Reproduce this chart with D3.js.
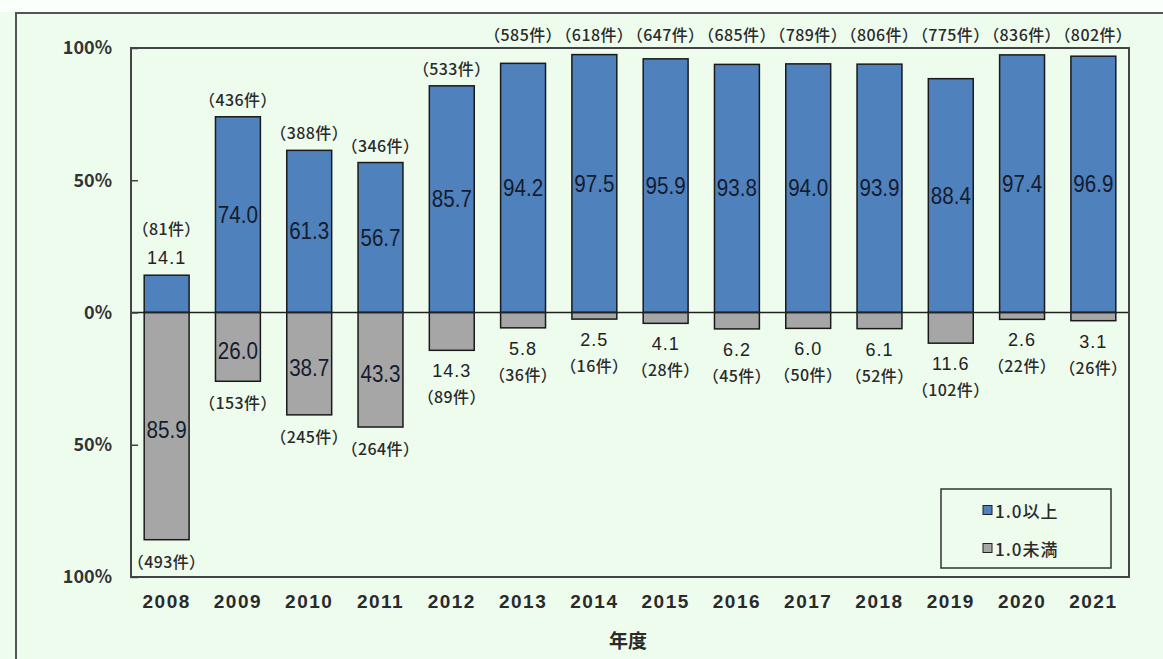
<!DOCTYPE html>
<html>
<head>
<meta charset="utf-8">
<script src="https://cdn.jsdelivr.net/npm/d3@7"></script>
<style>
  html, body { margin: 0; padding: 0; background: #eefcee; }
  svg { display: block; }
</style>
</head>
<body>
<svg id="chart" width="1163" height="659"></svg>
<script>
const years = ["2008", "2009", "2010", "2011", "2012", "2013", "2014", "2015", "2016", "2017", "2018", "2019", "2020", "2021"];
const aboveShare = [14.1, 74.0, 61.3, 56.7, 85.7, 94.2, 97.5, 95.9, 93.8, 94.0, 93.9, 88.4, 97.4, 96.9];
const belowShare = [85.9, 26.0, 38.7, 43.3, 14.3, 5.8, 2.5, 4.1, 6.2, 6.0, 6.1, 11.6, 2.6, 3.1];
const aboveCount = [81, 436, 388, 346, 533, 585, 618, 647, 685, 789, 806, 775, 836, 802];
const belowCount = [493, 153, 245, 264, 89, 36, 16, 28, 45, 50, 52, 102, 22, 26];
const yTicks = [-100, -50, 0, 50, 100];
const seriesNames = ["1.0以上", "1.0未満"];
const seriesColors = ["#4f81bd", "#a6a6a6"];

const width = 1163, height = 659;
const margin = {top: 48, right: 34, bottom: 82, left: 131};
const jp = "'Noto Sans CJK JP', sans-serif";
const num = "'Liberation Sans', Arial, sans-serif";

const svg = d3.select("#chart");

// outer frame (top edge + left edge visible)
svg.append("rect").attr("x", 0).attr("y", 0).attr("width", width).attr("height", 12).attr("fill", "#fbfffb");
svg.append("path")
    .attr("d", `M16,${height}V13H${width}`)
    .attr("fill", "none").attr("stroke", "#555").attr("stroke-width", 2);

const x = d3.scaleBand()
    .domain(years)
    .range([margin.left, width - margin.right])
    .paddingInner(0.37).paddingOuter(0.185);

const y = d3.scaleLinear()
    .domain([-100, 100])
    .range([height - margin.bottom, margin.top]);

const rows = years.map((yr, i) => ({
  year: yr, up: aboveShare[i], down: belowShare[i], nUp: aboveCount[i], nDown: belowCount[i]
}));

// bars
const g = svg.append("g");
g.selectAll("rect.up").data(rows).join("rect")
    .attr("class", "up")
    .attr("x", d => x(d.year)).attr("width", x.bandwidth())
    .attr("y", d => y(d.up)).attr("height", d => y(0) - y(d.up))
    .attr("fill", seriesColors[0]).attr("stroke", "#1a1a1a").attr("stroke-width", 1.5);

g.selectAll("rect.down").data(rows).join("rect")
    .attr("class", "down")
    .attr("x", d => x(d.year)).attr("width", x.bandwidth())
    .attr("y", y(0)).attr("height", d => y(-d.down) - y(0))
    .attr("fill", seriesColors[1]).attr("stroke", "#1a1a1a").attr("stroke-width", 1.5);

// zero line
svg.append("line")
    .attr("x1", margin.left).attr("x2", width - margin.right)
    .attr("y1", y(0)).attr("y2", y(0))
    .attr("stroke", "#222").attr("stroke-width", 1.5);

// plot frame
svg.append("rect")
    .attr("x", margin.left).attr("y", margin.top)
    .attr("width", width - margin.left - margin.right)
    .attr("height", height - margin.top - margin.bottom)
    .attr("fill", "none").attr("stroke", "#444").attr("stroke-width", 2);

// y axis
const yAxis = svg.append("g")
    .attr("transform", `translate(${margin.left},0)`)
    .call(d3.axisLeft(y).tickValues(yTicks).tickSizeInner(-7).tickSizeOuter(0).tickPadding(19)
      .tickFormat(d => Math.abs(d) + "%"));
yAxis.select(".domain").remove();
yAxis.selectAll("line").attr("stroke", "#444").attr("stroke-width", 1.5);
yAxis.selectAll("text").attr("font-family", jp).attr("font-weight", 700)
    .attr("font-size", 18).attr("fill", "#333");

// x axis
const xAxis = svg.append("g")
    .attr("transform", `translate(0,${height - margin.bottom})`)
    .call(d3.axisBottom(x).tickSize(0).tickPadding(18));
xAxis.select(".domain").remove();
xAxis.selectAll("text").attr("font-family", num).attr("font-weight", 700)
    .attr("font-size", 19).attr("letter-spacing", 1.5).attr("fill", "#2a2a2a");

svg.append("text")
    .attr("x", (margin.left + width - margin.right) / 2 - 2).attr("y", 639)
    .attr("text-anchor", "middle").attr("dominant-baseline", "central")
    .attr("font-family", jp).attr("font-weight", 700).attr("font-size", 19)
    .attr("fill", "#2a2a2a").text("年度");

// labels
const cx = d => x(d.year) + x.bandwidth() / 2;
const labels = svg.append("g");

function bigLabel(px, py, t) {
  labels.append("text")
      .attr("transform", `translate(${px},${py}) scale(0.86,1)`)
      .attr("text-anchor", "middle").attr("dominant-baseline", "central")
      .attr("font-family", num).attr("font-size", 24).attr("fill", "#141c30")
      .text(t);
}
function smallValue(px, py, t) {
  labels.append("text")
      .attr("x", px).attr("y", py)
      .attr("text-anchor", "middle").attr("dominant-baseline", "central")
      .attr("font-family", num).attr("font-size", 18).attr("letter-spacing", 1)
      .attr("fill", "#222").text(t);
}
function countLabel(px, py, n) {
  labels.append("text")
      .attr("x", px).attr("y", py)
      .attr("text-anchor", "middle").attr("dominant-baseline", "central")
      .attr("font-family", jp).attr("font-size", 16).attr("font-weight", 500)
      .attr("letter-spacing", 0.4)
      .attr("fill", "#2a2a2a").text(`（${n}件）`);
}

rows.forEach(d => {
  const px = cx(d);
  // upper series
  if (d.up > 20) {
    bigLabel(px, y(d.up / 2), d.up.toFixed(1));
    const cy = d.up > 87 ? margin.top - 14 : y(d.up) - 18;
    countLabel(px, cy, d.nUp);
  } else {
    smallValue(px, y(d.up) - 17, d.up.toFixed(1));
    countLabel(px, y(d.up) - 47, d.nUp);
  }
  // lower series
  if (d.down > 20) {
    bigLabel(px, y(-d.down / 2) + 4, d.down.toFixed(1));
    countLabel(px, y(-d.down) + 21, d.nDown);
  } else {
    const vy = y(-d.down) + 21;
    smallValue(px, vy, d.down.toFixed(1));
    countLabel(px, vy + 25, d.nDown);
  }
});

// legend
const lg = svg.append("g").attr("transform", "translate(941,489)");
lg.append("rect").attr("width", 170).attr("height", 79)
    .attr("fill", "#eefcee").attr("stroke", "#333").attr("stroke-width", 1.5);
seriesNames.forEach((name, i) => {
  const ly = 21 + i * 38;
  lg.append("rect").attr("x", 42).attr("y", ly - 4.5).attr("width", 9).attr("height", 9)
      .attr("fill", seriesColors[i]).attr("stroke", "#222").attr("stroke-width", 1);
  lg.append("text").attr("x", 54).attr("y", ly)
      .attr("dominant-baseline", "central")
      .attr("font-family", jp).attr("font-size", 17).attr("font-weight", 500)
      .attr("letter-spacing", 1).attr("fill", "#2a2a2a").text(name);
});
</script>
</body>
</html>
